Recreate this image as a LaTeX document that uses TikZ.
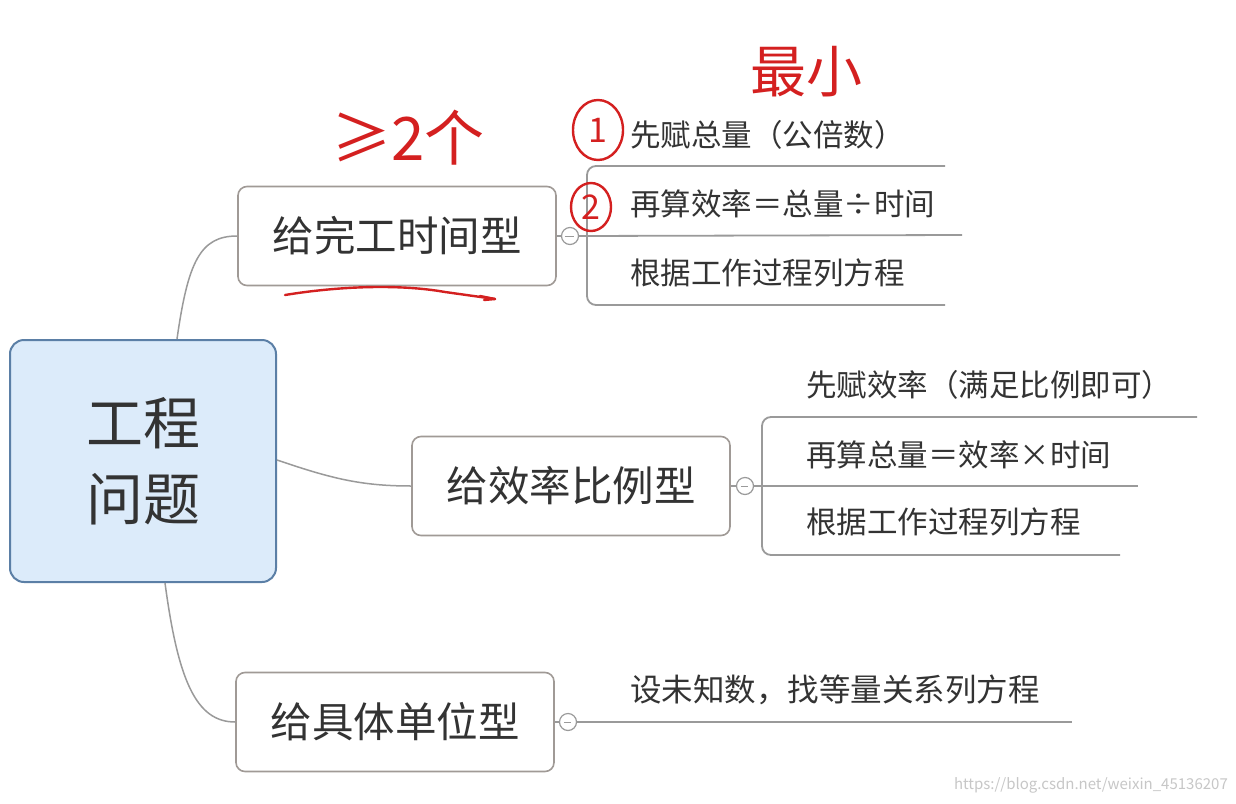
\documentclass[tikz,border=0pt]{standalone}
\usepackage{fontspec}
\setmainfont{Noto Sans CJK SC}
\newfontfamily\cjk{Noto Sans CJK SC}
\usetikzlibrary{calc,shapes.geometric}
\definecolor{rootfill}{HTML}{DCEBFA}
\definecolor{rootline}{HTML}{5B7FA6}
\definecolor{boxline}{HTML}{A09A96}
\definecolor{linkc}{HTML}{9A9A9A}
\definecolor{txt}{HTML}{333333}
\definecolor{pen}{HTML}{D42020}
\tikzset{
  rootbox/.style={draw=rootline, line width=2pt, fill=rootfill, rounded corners=14pt,
    minimum width=266pt, minimum height=242pt, inner sep=0pt, align=center,
    font=\cjk\fontsize{57}{76}\selectfont, text=txt},
  topicbox/.style={draw=boxline, line width=1.6pt, fill=white, rounded corners=9pt,
    minimum width=318pt, minimum height=99pt, inner sep=0pt,
    font=\cjk\fontsize{41.5}{48}\selectfont, text=txt},
  leaf/.style={anchor=west, inner sep=0pt, font=\cjk\fontsize{30.5}{36}\selectfont, text=txt},
  link/.style={draw=linkc, line width=1.5pt},
  bracket/.style={draw=linkc, line width=1.8pt, rounded corners=9pt},
  toggle/.style={circle, draw=linkc, line width=1.2pt, fill=white, minimum size=17pt, inner sep=0pt},
  ink/.style={draw=pen, line width=2.4pt, line cap=round, line join=round},
  inktext/.style={text=pen, inner sep=0pt},
  ringed/.style={ink, ellipse, inner sep=0pt, inktext, font=\cjk\fontsize{34}{36}\selectfont},
}
\begin{document}
\begin{tikzpicture}[x=1pt,y=-1pt]
\useasboundingbox (0,0) rectangle (1236,803);
\fill[white] (0,0) rectangle (1236,803);

% root
\node[rootbox] (root) at (143,461) {工程\\问题};

% topics
\node[topicbox] (ta) at (397,236) {给完工时间型};
\node[topicbox] (tb) at (571,486) {给效率比例型};
\node[topicbox] (tc) at (395,722) {给具体单位型};

% links from root
\draw[link] ([xshift=34pt]root.north) .. controls (188,262) and (200,236) .. (ta.west);
\draw[link] ([yshift=1pt]root.east) .. controls (330,478) and (360,486) .. (tb.west);
\draw[link] ([xshift=22pt]root.south) .. controls (178,680) and (196,722) .. (tc.west);

% toggles
\node[toggle] (ca) at (570,236) {};
\node[toggle] (cb) at (745,486) {};
\node[toggle] (cc) at (568,722) {};
\draw[linkc, line width=1pt] (ca.west) ++(4,0) -- ++(9,0);
\draw[linkc, line width=1pt] (cb.west) ++(5,0) -- ++(7,0);
\draw[linkc, line width=1pt] (cc.west) ++(5,0) -- ++(7,0);
\draw[link] (ta.east) -- (ca.west);
\draw[link] (tb.east) -- (cb.west);
\draw[link] (tc.east) -- (cc.west);

% bracket A
\coordinate (a1) at (945,166);
\coordinate (a2) at (962,235);
\coordinate (a3) at (945,305);
\draw[bracket] (a1) -| (587,305) -- (a3);
\draw[bracket] (ca.east) -- (a2);
\node[leaf] (la1) at (630,135) {先赋总量（公倍数）};
\node[leaf] (la2) at (630,204) {再算效率＝总量÷时间};
\node[leaf] (la3) at (630,273) {根据工作过程列方程};

% bracket B
\coordinate (b1) at (1197,417);
\coordinate (b2) at (1138,486);
\coordinate (b3) at (1120,555);
\draw[bracket] (b1) -| (762,555) -- (b3);
\draw[bracket] (cb.east) -- (b2);
\node[leaf] (lb1) at (806,385) {先赋效率（满足比例即可）};
\node[leaf] (lb2) at (806,455) {再算总量＝效率×时间};
\node[leaf] (lb3) at (806,522) {根据工作过程列方程};

% bracket C
\coordinate (c1) at (1072,722);
\draw[bracket] (cc.east) -- (c1);
\node[leaf, font=\cjk\fontsize{31.5}{36}\selectfont] (lc1) at (630,690) {设未知数，找等量关系列方程};

% watermark
\node[anchor=east, inner sep=0pt, text=black!22, font=\cjk\fontsize{15}{18}\selectfont] (wm) at (1228,785) {https://blog.csdn.net/weixin\_45136207};

% handwritten annotations
\node[inktext, font=\cjk\fontsize{60}{66}\selectfont] (n2) at (408,138) {≥2个};
\node[inktext, font=\cjk\fontsize{56}{60}\selectfont] (nmin) at (806,72) {最小};
\node[ringed, minimum width=50pt, minimum height=60pt] (m1) at (598,130) {1};
\node[ringed, minimum width=40pt, minimum height=48pt] (m2) at (591,207) {2};
\coordinate (u0) at (285,295);
\coordinate (u1) at (495,299);
\draw[ink] (u0) .. controls (340,286) and (400,284) .. (445,292) -- (u1);
\draw[ink] (480,296) -- (u1) -- (484,300);
\end{tikzpicture}
\end{document}
